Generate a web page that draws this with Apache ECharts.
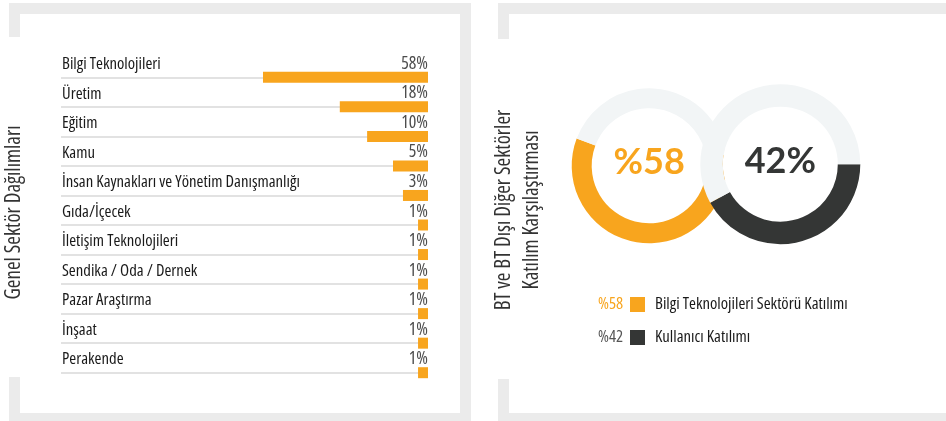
<!DOCTYPE html>
<html>
<head>
<meta charset="utf-8">
<script src="https://cdn.jsdelivr.net/npm/echarts@6/dist/echarts.min.js"></script>
<style>
  html, body { margin: 0; padding: 0; background: #fff; }
  #chart { width: 946px; height: 421px; }
</style>
</head>
<body>
<div id="chart"></div>
<script>
// sector distribution (left panel)
const categories = [
  'Bilgi Teknolojileri',
  'Üretim',
  'Eğitim',
  'Kamu',
  'İnsan Kaynakları ve Yönetim Danışmanlığı',
  'Gıda/İçecek',
  'İletişim Teknolojileri',
  'Sendika / Oda / Dernek',
  'Pazar Araştırma',
  'İnşaat',
  'Perakende'
]
const shares = [58, 18, 10, 5, 3, 1, 1, 1, 1, 1, 1]
// the graphic does not draw bars to scale: lengths as drawn, in units of the 58% bar
const barLen = [58, 31, 21.4, 12.3, 8.8, 3.5, 3.5, 3.5, 3.5, 3.5, 3.5]

// BT vs other sectors (right panel)
const compareNames = ['Bilgi Teknolojileri Sektörü Katılımı', 'Kullanıcı Katılımı']
const compareValues = [58, 42]

const ORANGE = '#f8a51e'
const DARK = '#343635'
const TRACK = '#f2f5f6'
const FRAME = '#ebebeb'

// pick the narrowest condensed face that is installed
const ctx = document.createElement('canvas').getContext('2d')
const fontCandidates = [
  { stretch: 'normal', family: "'Liberation Sans Narrow'" },
  { stretch: 'condensed', family: "'Noto Sans'" },
  { stretch: 'semi-condensed', family: "'Noto Sans'" },
  { stretch: 'condensed', family: "'Open Sans'" },
  { stretch: 'normal', family: "'DejaVu Sans Condensed'" }
]
let best = null
fontCandidates.forEach(c => {
  ctx.font = '10px monospace'
  ctx.font = c.stretch + ' 16px ' + c.family
  if (ctx.font.indexOf('monospace') >= 0) return
  const w = ctx.measureText('Bilgi Teknolojileri').width
  if (!best || Math.abs(w - 99) < Math.abs(best.w - 99)) best = Object.assign({ w }, c)
})
const STRETCH = best.stretch
const NARROW = best.family + ', sans-serif'
const k = 99 / best.w  // size factor so label widths match the graphic
const fs = s => Math.round(s * k * 10) / 10

const chart = echarts.init(document.getElementById('chart'))

// gray corner frames around the two panels
const frameRects = [
  [9, 3, 462, 11], [460, 3, 11, 418], [9, 413, 462, 8], [9, 3, 11, 34], [9, 377, 11, 44],
  [498, 3, 448, 11], [498, 3, 11, 36], [498, 379, 11, 42], [498, 413, 448, 8]
].map(r => ({
  type: 'rect',
  silent: true,
  z: -10,
  shape: { x: r[0], y: r[1], width: r[2], height: r[3] },
  style: { fill: FRAME }
}))

const txt = (size, color) => ({ color, fontSize: fs(size), fontFamily: NARROW, fontStyle: STRETCH })

const option = {
  animation: false,
  grid: { left: 61, right: 518, top: 77.3, bottom: 48.3 },
  xAxis: { type: 'value', inverse: true, min: 0, max: 129, show: false },
  yAxis: [
    {
      type: 'category',
      data: categories,
      inverse: true,
      boundaryGap: false,
      axisLine: { show: false },
      axisTick: { show: false },
      splitLine: { show: true, interval: 0, lineStyle: { color: '#d8d8d8', width: 1.5 } },
      axisLabel: Object.assign(txt(16, '#1a1a1a'), {
        inside: true, margin: 1, interval: 0,
        verticalAlign: 'bottom', lineHeight: 16, padding: [0, 0, 5, 0]
      })
    },
    {
      type: 'category',
      data: shares.map(v => v + '%'),
      inverse: true,
      boundaryGap: false,
      position: 'right',
      axisLine: { show: false },
      axisTick: { show: false },
      splitLine: { show: false },
      axisLabel: Object.assign(txt(17, '#4d4d4d'), {
        inside: true, margin: 0, interval: 0,
        verticalAlign: 'bottom', lineHeight: 17, padding: [0, 0, 5, 0]
      })
    }
  ],
  legend: [
    {
      // icon + name
      orient: 'vertical', left: 630, top: 296, padding: 0,
      itemWidth: 15, itemHeight: 15, itemGap: 16, icon: 'rect',
      selectedMode: false,
      data: compareNames,
      textStyle: Object.assign(txt(16, '#1a1a1a'), { lineHeight: 15, padding: [0, 0, 0, 5] })
    },
    {
      // percentage in front of the icon (its own icon hidden)
      orient: 'vertical', left: 598, top: 296, padding: 0, align: 'right',
      itemWidth: 15, itemHeight: 15, itemGap: 16, icon: 'rect',
      itemStyle: { opacity: 0 },
      selectedMode: false,
      data: compareNames,
      formatter: name => {
        const i = compareNames.indexOf(name)
        return '{p' + i + '|%' + compareValues[i] + '}'
      },
      textStyle: Object.assign(txt(16, '#555'), {
        lineHeight: 15,
        rich: {
          p0: txt(16, ORANGE),
          p1: txt(16, '#555')
        }
      })
    }
  ],
  graphic: frameRects.concat([
    {
      type: 'text', x: 14, y: 212.5, rotation: Math.PI / 2, silent: true,
      style: {
        text: 'Genel Sektör Dağılımları', fill: '#333',
        font: STRETCH + ' ' + fs(20) + 'px ' + NARROW,
        align: 'center', verticalAlign: 'middle'
      }
    },
    {
      type: 'text', x: 518, y: 210, rotation: Math.PI / 2, silent: true,
      style: {
        text: 'BT ve BT Dışı Diğer Sektörler\nKatılım Karşılaştırması', fill: '#333',
        font: STRETCH + ' ' + fs(20) + 'px ' + NARROW, lineHeight: 28,
        align: 'center', verticalAlign: 'middle'
      }
    }
  ]),
  series: [
    {
      type: 'bar',
      xAxisIndex: 0,
      yAxisIndex: 0,
      barWidth: 11,
      itemStyle: { color: ORANGE },
      data: barLen,
      silent: true
    },
    {
      // BT sector share
      type: 'pie',
      z: 2,
      center: [649.2, 165.8],
      radius: [57.5, 77.5],
      startAngle: 159.4,
      clockwise: false,
      silent: true,
      labelLine: { show: false },
      data: [
        {
          name: compareNames[0], value: compareValues[0], itemStyle: { color: ORANGE },
          label: {
            show: true, position: 'center', formatter: '%' + compareValues[0],
            color: ORANGE, fontSize: 36, fontWeight: 'bold', fontFamily: 'Lato', offset: [0, -3]
          }
        },
        { name: 'rest0', value: 100 - compareValues[0], itemStyle: { color: TRACK }, label: { show: false } }
      ]
    },
    {
      // white hole of the right ring, covers the left ring
      type: 'pie',
      z: 3,
      center: [780.3, 164.2],
      radius: [0, 57.5],
      silent: true,
      label: { show: false },
      data: [{ name: 'hole', value: 1, itemStyle: { color: '#fff' } }]
    },
    {
      // user participation
      type: 'pie',
      z: 4,
      center: [780.3, 164.2],
      radius: [57.5, 80],
      startAngle: 0,
      clockwise: true,
      silent: true,
      labelLine: { show: false },
      data: [
        {
          name: compareNames[1], value: compareValues[1], itemStyle: { color: DARK },
          label: {
            show: true, position: 'center', formatter: compareValues[1] + '%',
            color: DARK, fontSize: 36, fontWeight: 'bold', fontFamily: 'Lato', offset: [0, -3]
          }
        },
        { name: 'rest1', value: 100 - compareValues[1], itemStyle: { color: TRACK }, label: { show: false } }
      ]
    }
  ]
}

chart.setOption(option)
</script>
</body>
</html>
